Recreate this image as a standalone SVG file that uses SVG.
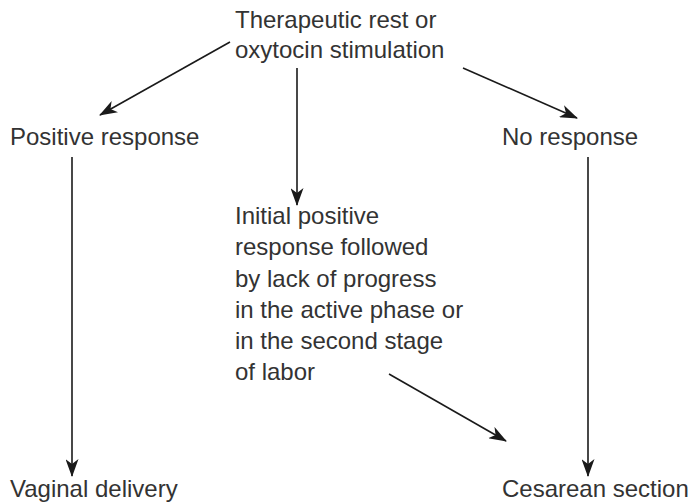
<svg xmlns="http://www.w3.org/2000/svg" width="690" height="504" viewBox="0 0 690 504">
  <defs>
    <marker id="arrow" viewBox="0 0 18 13" refX="17" refY="6.5" markerWidth="18" markerHeight="13" markerUnits="userSpaceOnUse" orient="auto">
      <path d="M0,0 L18,6.5 L0,13 L5,6.5 Z" fill="#1a1a1a"/>
    </marker>
  </defs>
  <style>
    .lbl { font-family: "Liberation Sans", Arial, sans-serif; font-size: 24px; fill: #333333; }
    .edge { stroke: #1a1a1a; stroke-width: 1.6; fill: none; marker-end: url(#arrow); }
  </style>
  <rect width="690" height="504" fill="#ffffff"/>

  <g id="start">
    <text class="lbl" x="235" y="28">Therapeutic rest or</text>
    <text class="lbl" x="235" y="58">oxytocin stimulation</text>
  </g>
  <g id="positive">
    <text class="lbl" x="10" y="145">Positive response</text>
  </g>
  <g id="none">
    <text class="lbl" x="502" y="145">No response</text>
  </g>
  <g id="initial">
    <text class="lbl" x="235" y="224">Initial positive</text>
    <text class="lbl" x="235" y="255">response followed</text>
    <text class="lbl" x="235" y="287">by lack of progress</text>
    <text class="lbl" x="235" y="318">in the active phase or</text>
    <text class="lbl" x="235" y="349">in the second stage</text>
    <text class="lbl" x="235" y="380">of labor</text>
  </g>
  <g id="vaginal">
    <text class="lbl" x="10" y="497">Vaginal delivery</text>
  </g>
  <g id="cesarean">
    <text class="lbl" x="502" y="497">Cesarean section</text>
  </g>

  <g id="connectors">
    <line class="edge" x1="230" y1="42" x2="100" y2="115"/>
    <line class="edge" x1="463" y1="68" x2="577" y2="118"/>
    <line class="edge" x1="297" y1="68" x2="297" y2="205"/>
    <line class="edge" x1="72" y1="157" x2="72" y2="476"/>
    <line class="edge" x1="588" y1="157" x2="588" y2="476"/>
    <line class="edge" x1="389" y1="374" x2="506" y2="441"/>
  </g>
</svg>
